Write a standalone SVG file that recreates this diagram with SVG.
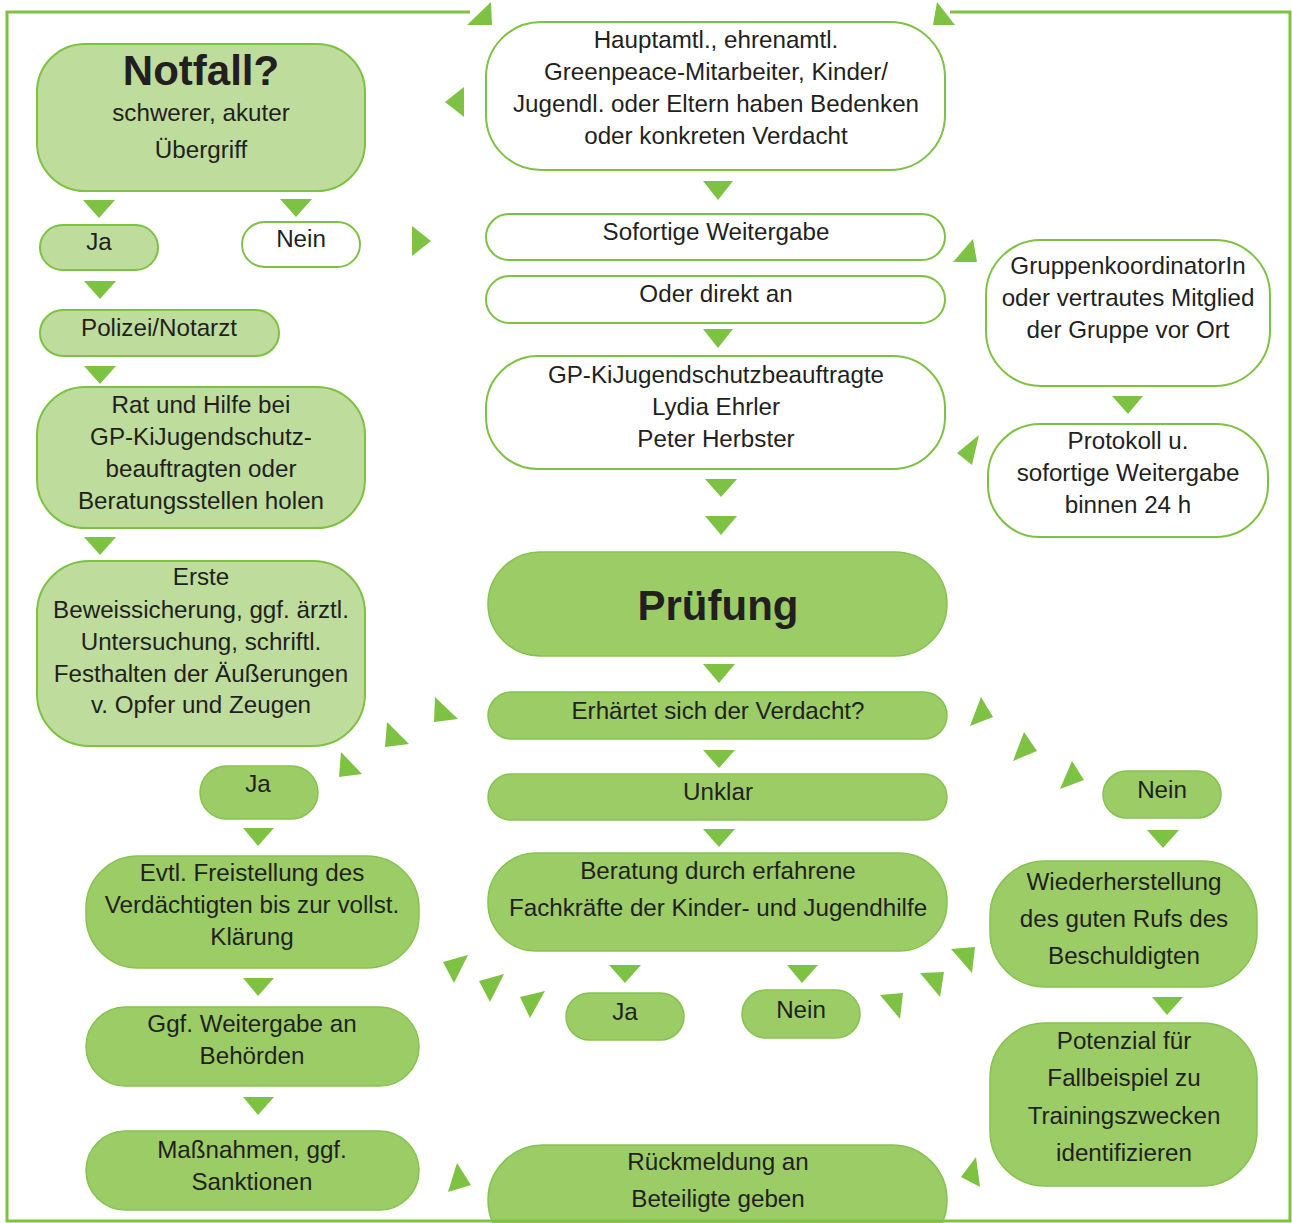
<svg xmlns="http://www.w3.org/2000/svg" width="1292" height="1223" viewBox="0 0 1292 1223">
<style>
.t{font-family:"Liberation Sans",Arial,sans-serif;font-size:24.2px;fill:#231f20;text-anchor:middle}
.b{font-weight:bold;font-size:42px}
.lg{fill:#bedc9c;stroke:#7dc242;stroke-width:2}
.mg{fill:#9bcc65;stroke:#86c250;stroke-width:1.5}
.wh{fill:#ffffff;stroke:#7dc242;stroke-width:2}
.ar{fill:#7dc242}
.ln{fill:none;stroke:#7dc242;stroke-width:3}
</style>
<rect width="1292" height="1223" fill="#ffffff"/>
<g id="n-notfall"><rect class="lg" x="37" y="44" width="328" height="147" rx="48"/><text class="t b" x="201" y="85">Notfall?</text><text class="t" x="201" y="121">schwerer, akuter</text><text class="t" x="201" y="158">Übergriff</text></g>
<g id="n-bedenken"><rect class="wh" x="486" y="22" width="459" height="148" rx="55"/><text class="t" x="716" y="48">Hauptamtl., ehrenamtl.</text><text class="t" x="716" y="80">Greenpeace-Mitarbeiter, Kinder/</text><text class="t" x="716" y="112">Jugendl. oder Eltern haben Bedenken</text><text class="t" x="716" y="144">oder konkreten Verdacht</text></g>
<g id="n-ja1"><rect class="lg" x="40" y="225" width="118" height="45" rx="22.5"/><text class="t" x="99" y="250">Ja</text></g>
<g id="n-nein1"><rect class="wh" x="242" y="222" width="118" height="45" rx="22.5"/><text class="t" x="301" y="247">Nein</text></g>
<g id="n-sofort"><rect class="wh" x="486" y="214" width="459" height="46" rx="23"/><text class="t" x="716" y="240">Sofortige Weitergabe</text></g>
<g id="n-direkt"><rect class="wh" x="486" y="276" width="459" height="47" rx="23.5"/><text class="t" x="716" y="302">Oder direkt an</text></g>
<g id="n-beauftragte"><rect class="wh" x="486" y="356" width="459" height="113" rx="52"/><text class="t" x="716" y="383">GP-KiJugendschutzbeauftragte</text><text class="t" x="716" y="415">Lydia Ehrler</text><text class="t" x="716" y="447">Peter Herbster</text></g>
<g id="n-gruppe"><rect class="wh" x="986" y="240" width="284" height="146" rx="55"/><text class="t" x="1128" y="274">GruppenkoordinatorIn</text><text class="t" x="1128" y="306">oder vertrautes Mitglied</text><text class="t" x="1128" y="338">der Gruppe vor Ort</text></g>
<g id="n-protokoll"><rect class="wh" x="988" y="424" width="280" height="113" rx="52"/><text class="t" x="1128" y="449">Protokoll u.</text><text class="t" x="1128" y="481">sofortige Weitergabe</text><text class="t" x="1128" y="513">binnen 24 h</text></g>
<g id="n-polizei"><rect class="lg" x="40" y="310" width="239" height="46" rx="23"/><text class="t" x="159" y="336">Polizei/Notarzt</text></g>
<g id="n-rat"><rect class="lg" x="37" y="387" width="328" height="141" rx="48"/><text class="t" x="201" y="413">Rat und Hilfe bei</text><text class="t" x="201" y="445">GP-KiJugendschutz-</text><text class="t" x="201" y="477">beauftragten oder</text><text class="t" x="201" y="509">Beratungsstellen holen</text></g>
<g id="n-beweis"><rect class="lg" x="37" y="561" width="328" height="185" rx="52"/><text class="t" x="201" y="585">Erste</text><text class="t" x="201" y="618">Beweissicherung, ggf. ärztl.</text><text class="t" x="201" y="650">Untersuchung, schriftl.</text><text class="t" x="201" y="682">Festhalten der Äußerungen</text><text class="t" x="201" y="713">v. Opfer und Zeugen</text></g>
<g id="n-pruefung"><rect class="mg" x="488" y="552" width="459" height="104" rx="52"/><text class="t b" x="718" y="620">Prüfung</text></g>
<g id="n-erhaertet"><rect class="mg" x="488" y="692" width="459" height="47" rx="23.5"/><text class="t" x="718" y="719">Erhärtet sich der Verdacht?</text></g>
<g id="n-unklar"><rect class="mg" x="488" y="774" width="459" height="46" rx="23"/><text class="t" x="718" y="800">Unklar</text></g>
<g id="n-beratung"><rect class="mg" x="488" y="853" width="459" height="98" rx="48"/><text class="t" x="718" y="879">Beratung durch erfahrene</text><text class="t" x="718" y="916">Fachkräfte der Kinder- und Jugendhilfe</text></g>
<g id="n-ja2"><rect class="mg" x="200" y="766" width="118" height="53" rx="26.5"/><text class="t" x="258" y="792">Ja</text></g>
<g id="n-freistellung"><rect class="mg" x="86" y="856" width="333" height="112" rx="52"/><text class="t" x="252" y="881">Evtl. Freistellung des</text><text class="t" x="252" y="913">Verdächtigten bis zur vollst.</text><text class="t" x="252" y="945">Klärung</text></g>
<g id="n-behoerden"><rect class="mg" x="86" y="1007" width="333" height="79" rx="39.5"/><text class="t" x="252" y="1032">Ggf. Weitergabe an</text><text class="t" x="252" y="1064">Behörden</text></g>
<g id="n-massnahmen"><rect class="mg" x="86" y="1131" width="333" height="79" rx="39.5"/><text class="t" x="252" y="1158">Maßnahmen, ggf.</text><text class="t" x="252" y="1190">Sanktionen</text></g>
<g id="n-ja3"><rect class="mg" x="566" y="993" width="118" height="47" rx="23.5"/><text class="t" x="625" y="1020">Ja</text></g>
<g id="n-nein3"><rect class="mg" x="742" y="990" width="118" height="48" rx="24"/><text class="t" x="801" y="1018">Nein</text></g>
<g id="n-nein2"><rect class="mg" x="1103" y="771" width="118" height="47" rx="23.5"/><text class="t" x="1162" y="798">Nein</text></g>
<g id="n-wiederherstellung"><rect class="mg" x="990" y="861" width="267" height="126" rx="55"/><text class="t" x="1124" y="890">Wiederherstellung</text><text class="t" x="1124" y="927">des guten Rufs des</text><text class="t" x="1124" y="964">Beschuldigten</text></g>
<g id="n-potenzial"><rect class="mg" x="990" y="1023" width="267" height="163" rx="55"/><text class="t" x="1124" y="1049">Potenzial für</text><text class="t" x="1124" y="1086">Fallbeispiel zu</text><text class="t" x="1124" y="1124">Trainingszwecken</text><text class="t" x="1124" y="1161">identifizieren</text></g>
<g id="n-rueckmeldung"><rect class="mg" x="488" y="1145" width="459" height="110" rx="55"/><text class="t" x="718" y="1170">Rückmeldung an</text><text class="t" x="718" y="1207">Beteiligte geben</text></g>
<g id="connectors">
<polyline class="ln" points="470,12 7,12 7,1221 1290,1221 1290,12 950,12"/>
<polygon class="ar" points="467,25 491,2 492,25"/>
<polygon class="ar" points="933,25 937,2 955,25"/>
<polygon class="ar" points="445,102 464,87 464,117"/>
<polygon class="ar" points="83,200 115,200 99,218"/>
<polygon class="ar" points="280,199 312,199 296,217"/>
<polygon class="ar" points="412,226 431,241 412,256"/>
<polygon class="ar" points="703,181 733,181 718,200"/>
<polygon class="ar" points="703,329 733,329 718,348"/>
<polygon class="ar" points="953,262 973,239 977,262"/>
<polygon class="ar" points="1112,396 1143,396 1128,414"/>
<polygon class="ar" points="957,453 979,435 972,465"/>
<polygon class="ar" points="84,281 116,281 100,299"/>
<polygon class="ar" points="84,366 116,366 100,384"/>
<polygon class="ar" points="84,537 116,537 100,555"/>
<polygon class="ar" points="705,479 737,479 721,497"/>
<polygon class="ar" points="705,516 737,516 721,535"/>
<polygon class="ar" points="703,664 735,664 719,683"/>
<polygon class="ar" points="703,750 735,750 719,768"/>
<polygon class="ar" points="703,829 735,829 719,847"/>
<polygon class="ar" points="435,697 458,719 434,722"/>
<polygon class="ar" points="387,722 409,744 385,747"/>
<polygon class="ar" points="341,752 362,774 339,777"/>
<polygon class="ar" points="970,726 981,697 993,717"/>
<polygon class="ar" points="1013,761 1024,732 1037,751"/>
<polygon class="ar" points="1060,789 1072,761 1084,780"/>
<polygon class="ar" points="243,828 274,828 258,846"/>
<polygon class="ar" points="243,978 274,978 258,996"/>
<polygon class="ar" points="243,1097 274,1097 258,1115"/>
<polygon class="ar" points="1147,830 1179,830 1163,848"/>
<polygon class="ar" points="1152,997 1183,997 1167,1015"/>
<polygon class="ar" points="609,965 641,965 625,983"/>
<polygon class="ar" points="787,965 818,965 802,983"/>
<polygon class="ar" points="443,962 468,955 454,983"/>
<polygon class="ar" points="479,981 504,974 490,1002"/>
<polygon class="ar" points="520,997 545,991 530,1018"/>
<polygon class="ar" points="880,995 903,993 900,1019"/>
<polygon class="ar" points="920,973 944,972 940,997"/>
<polygon class="ar" points="951,949 975,947 972,973"/>
<polygon class="ar" points="448,1192 457,1163 471,1185"/>
<polygon class="ar" points="961,1177 976,1157 980,1187"/>
</g>
</svg>
